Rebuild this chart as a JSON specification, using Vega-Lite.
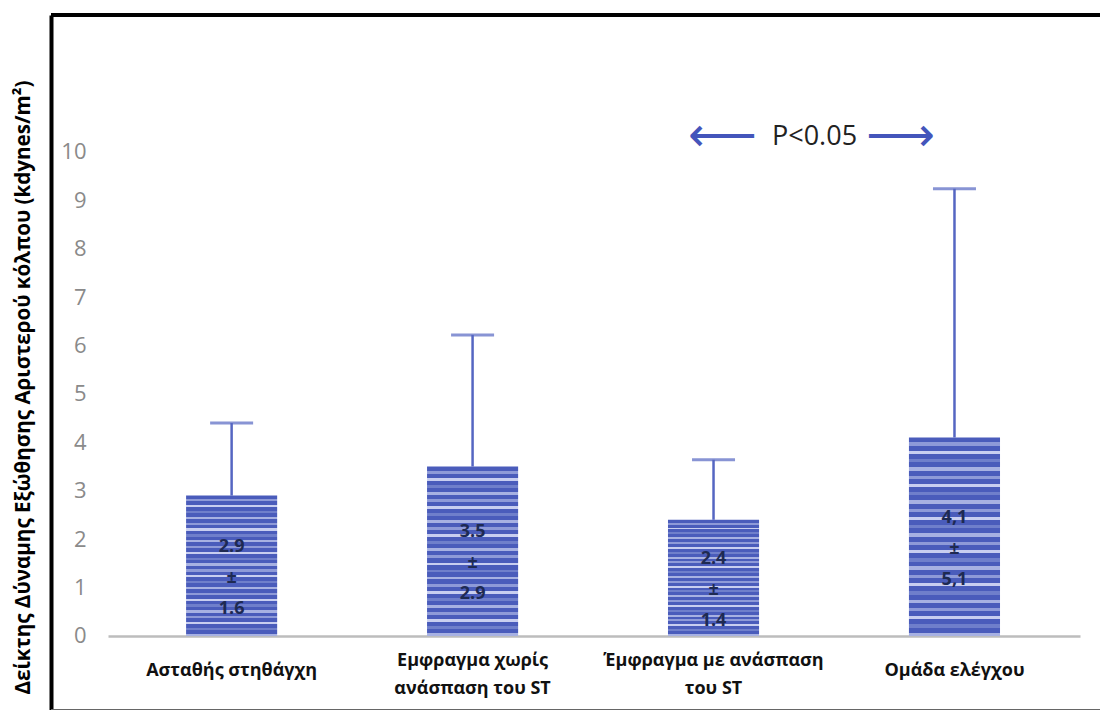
{
  "$schema": "https://vega.github.io/schema/vega-lite/v6.json",
  "autosize": {"type": "none"},
  "padding": {"left": 51, "top": 15, "right": 0, "bottom": 0},
  "width": 1049,
  "height": 695,
  "background": "white",
  "config": {"view": {"stroke": null}},
  "data": {"values": [
    {"group": "Ασταθής στηθάγχη", "mean": 2.9, "upper": 4.4, "label": "2.9\n±\n1.6"},
    {"group": "Εμφραγμα χωρίς\nανάσπαση του ST", "mean": 3.5, "upper": 6.22, "label": "3.5\n±\n2.9"},
    {"group": "Έμφραγμα με ανάσπαση\nτου ST", "mean": 2.4, "upper": 3.64, "label": "2.4\n±\n1.4"},
    {"group": "Ομάδα ελέγχου", "mean": 4.1, "upper": 9.24, "label": "4,1\n±\n5,1"}
  ]},
  "layer": [
    {
      "mark": {"type": "bar", "fill": {"gradient": "linear", "x1": 0, "y1": 0, "x2": 0, "y2": 1, "stops": [
        {"offset": 0, "color": "#4a5cbb"}, {"offset": 0.025, "color": "#4a5cbb"}, {"offset": 0.025, "color": "#8e9ad8"}, {"offset": 0.0417, "color": "#8e9ad8"},
        {"offset": 0.0417, "color": "#4a5cbb"}, {"offset": 0.0667, "color": "#4a5cbb"}, {"offset": 0.0667, "color": "#c8cef0"}, {"offset": 0.0833, "color": "#c8cef0"},
        {"offset": 0.0833, "color": "#4a5cbb"}, {"offset": 0.1083, "color": "#4a5cbb"}, {"offset": 0.1083, "color": "#6f7fcb"}, {"offset": 0.125, "color": "#6f7fcb"},
        {"offset": 0.125, "color": "#4a5cbb"}, {"offset": 0.15, "color": "#4a5cbb"}, {"offset": 0.15, "color": "#a7b1e2"}, {"offset": 0.1667, "color": "#a7b1e2"},
        {"offset": 0.1667, "color": "#4a5cbb"}, {"offset": 0.1917, "color": "#4a5cbb"}, {"offset": 0.1917, "color": "#8e9ad8"}, {"offset": 0.2083, "color": "#8e9ad8"},
        {"offset": 0.2083, "color": "#4a5cbb"}, {"offset": 0.2333, "color": "#4a5cbb"}, {"offset": 0.2333, "color": "#c8cef0"}, {"offset": 0.25, "color": "#c8cef0"},
        {"offset": 0.25, "color": "#4a5cbb"}, {"offset": 0.275, "color": "#4a5cbb"}, {"offset": 0.275, "color": "#6f7fcb"}, {"offset": 0.2917, "color": "#6f7fcb"},
        {"offset": 0.2917, "color": "#4a5cbb"}, {"offset": 0.3167, "color": "#4a5cbb"}, {"offset": 0.3167, "color": "#a7b1e2"}, {"offset": 0.3333, "color": "#a7b1e2"},
        {"offset": 0.3333, "color": "#4a5cbb"}, {"offset": 0.3583, "color": "#4a5cbb"}, {"offset": 0.3583, "color": "#8e9ad8"}, {"offset": 0.375, "color": "#8e9ad8"},
        {"offset": 0.375, "color": "#4a5cbb"}, {"offset": 0.4, "color": "#4a5cbb"}, {"offset": 0.4, "color": "#c8cef0"}, {"offset": 0.4167, "color": "#c8cef0"},
        {"offset": 0.4167, "color": "#4a5cbb"}, {"offset": 0.4417, "color": "#4a5cbb"}, {"offset": 0.4417, "color": "#6f7fcb"}, {"offset": 0.4583, "color": "#6f7fcb"},
        {"offset": 0.4583, "color": "#4a5cbb"}, {"offset": 0.4833, "color": "#4a5cbb"}, {"offset": 0.4833, "color": "#a7b1e2"}, {"offset": 0.5, "color": "#a7b1e2"},
        {"offset": 0.5, "color": "#4a5cbb"}, {"offset": 0.525, "color": "#4a5cbb"}, {"offset": 0.525, "color": "#8e9ad8"}, {"offset": 0.5417, "color": "#8e9ad8"},
        {"offset": 0.5417, "color": "#4a5cbb"}, {"offset": 0.5667, "color": "#4a5cbb"}, {"offset": 0.5667, "color": "#c8cef0"}, {"offset": 0.5833, "color": "#c8cef0"},
        {"offset": 0.5833, "color": "#4a5cbb"}, {"offset": 0.6083, "color": "#4a5cbb"}, {"offset": 0.6083, "color": "#6f7fcb"}, {"offset": 0.625, "color": "#6f7fcb"},
        {"offset": 0.625, "color": "#4a5cbb"}, {"offset": 0.65, "color": "#4a5cbb"}, {"offset": 0.65, "color": "#a7b1e2"}, {"offset": 0.6667, "color": "#a7b1e2"},
        {"offset": 0.6667, "color": "#4a5cbb"}, {"offset": 0.6917, "color": "#4a5cbb"}, {"offset": 0.6917, "color": "#8e9ad8"}, {"offset": 0.7083, "color": "#8e9ad8"},
        {"offset": 0.7083, "color": "#4a5cbb"}, {"offset": 0.7333, "color": "#4a5cbb"}, {"offset": 0.7333, "color": "#c8cef0"}, {"offset": 0.75, "color": "#c8cef0"},
        {"offset": 0.75, "color": "#4a5cbb"}, {"offset": 0.775, "color": "#4a5cbb"}, {"offset": 0.775, "color": "#6f7fcb"}, {"offset": 0.7917, "color": "#6f7fcb"},
        {"offset": 0.7917, "color": "#4a5cbb"}, {"offset": 0.8167, "color": "#4a5cbb"}, {"offset": 0.8167, "color": "#a7b1e2"}, {"offset": 0.8333, "color": "#a7b1e2"},
        {"offset": 0.8333, "color": "#4a5cbb"}, {"offset": 0.8583, "color": "#4a5cbb"}, {"offset": 0.8583, "color": "#8e9ad8"}, {"offset": 0.875, "color": "#8e9ad8"},
        {"offset": 0.875, "color": "#4a5cbb"}, {"offset": 0.9, "color": "#4a5cbb"}, {"offset": 0.9, "color": "#c8cef0"}, {"offset": 0.9167, "color": "#c8cef0"},
        {"offset": 0.9167, "color": "#4a5cbb"}, {"offset": 0.9417, "color": "#4a5cbb"}, {"offset": 0.9417, "color": "#6f7fcb"}, {"offset": 0.9583, "color": "#6f7fcb"},
        {"offset": 0.9583, "color": "#4a5cbb"}, {"offset": 0.9833, "color": "#4a5cbb"}, {"offset": 0.9833, "color": "#a7b1e2"}, {"offset": 1, "color": "#a7b1e2"}
      ]}},
      "encoding": {
        "x": {
          "field": "group", "type": "nominal", "sort": null,
          "scale": {"range": [57, 1029], "paddingInner": 0.622, "paddingOuter": 0.328, "align": 0.494},
          "axis": {
            "title": null, "labelAngle": 0, "ticks": false, "tickSize": 0,
            "labelExpr": "split(datum.label, '\\n')",
            "labelBaseline": "middle",
            "labelPadding": {"condition": {"test": "indexof(datum.value, '\\n') >= 0", "value": 24}, "value": 34},
            "labelLineHeight": 28,
            "labelFont": "Open Sans", "labelFontWeight": "bold", "labelFontSize": 18,
            "labelColor": "#111111", "labelLimit": 300,
            "domainColor": "#bdbdbd", "domainWidth": 2.5, "offset": -74
          }
        },
        "y": {
          "field": "mean", "type": "quantitative",
          "scale": {"domain": [-1.53, 12.83], "nice": false, "zero": false},
          "axis": {
            "values": [0, 1, 2, 3, 4, 5, 6, 7, 8, 9, 10],
            "grid": false, "ticks": false, "tickSize": 0,
            "domain": true, "domainColor": "#000000", "domainWidth": 4,
            "labelPadding": -35, "labelAlign": "right", "labelFont": "Open Sans", "labelFontSize": 22, "labelColor": "#8a8a8a",
            "title": "Δείκτης Δύναμης Εξώθησης Αριστερού κόλπου (kdynes/m²)",
            "titleFont": "Open Sans", "titleFontWeight": "bold", "titleFontSize": 20.6, "titleColor": "#000000",
            "titleAngle": -90, "titleBaseline": "middle", "titleAlign": "center",
            "titleX": -28, "titleY": 372
          }
        }
      }
    },
    {
      "mark": {"type": "rule", "color": "#5566c2", "strokeWidth": 2.5},
      "encoding": {
        "x": {"field": "group", "type": "nominal", "sort": null},
        "y": {"field": "mean", "type": "quantitative"}, "y2": {"field": "upper"}
      }
    },
    {
      "mark": {"type": "tick", "color": "#5566c2", "thickness": 3, "size": 43},
      "encoding": {
        "x": {"field": "group", "type": "nominal", "sort": null},
        "y": {"field": "upper", "type": "quantitative"}
      }
    },
    {
      "transform": [{"calculate": "datum.mean / 2", "as": "mid"}],
      "mark": {"type": "text", "lineBreak": "\n", "lineHeight": 31, "font": "Open Sans", "fontWeight": "bold", "fontSize": 18, "color": "#1e2a52", "dy": -19},
      "encoding": {
        "x": {"field": "group", "type": "nominal", "sort": null},
        "y": {"field": "mid", "type": "quantitative"}, "text": {"field": "label"}
      }
    },
    {
      "data": {"values": [{}]},
      "mark": {"type": "rule", "color": "#000000", "strokeWidth": 4},
      "encoding": {"y": {"datum": 12.83}}
    },
    {
      "data": {"values": [{}]},
      "mark": {"type": "rule", "color": "#666666", "strokeWidth": 2},
      "encoding": {"y": {"datum": -1.53}}
    },
    {
      "data": {"values": [{}]},
      "mark": {"type": "text", "text": "P<0.05", "font": "Open Sans", "fontSize": 27, "color": "#222222", "dx": 101},
      "encoding": {"x": {"datum": "Έμφραγμα με ανάσπαση\nτου ST"}, "y": {"datum": 10.31}}
    },
    {
      "data": {"values": [{}]},
      "mark": {"type": "text", "text": "⟵", "font": "DejaVu Sans", "fontSize": 48, "color": "#4455bb", "dx": 9},
      "encoding": {"x": {"datum": "Έμφραγμα με ανάσπαση\nτου ST"}, "y": {"datum": 10.31}}
    },
    {
      "data": {"values": [{}]},
      "mark": {"type": "text", "text": "⟶", "font": "DejaVu Sans", "fontSize": 48, "color": "#4455bb", "dx": -54},
      "encoding": {"x": {"datum": "Ομάδα ελέγχου"}, "y": {"datum": 10.31}}
    }
  ]
}
